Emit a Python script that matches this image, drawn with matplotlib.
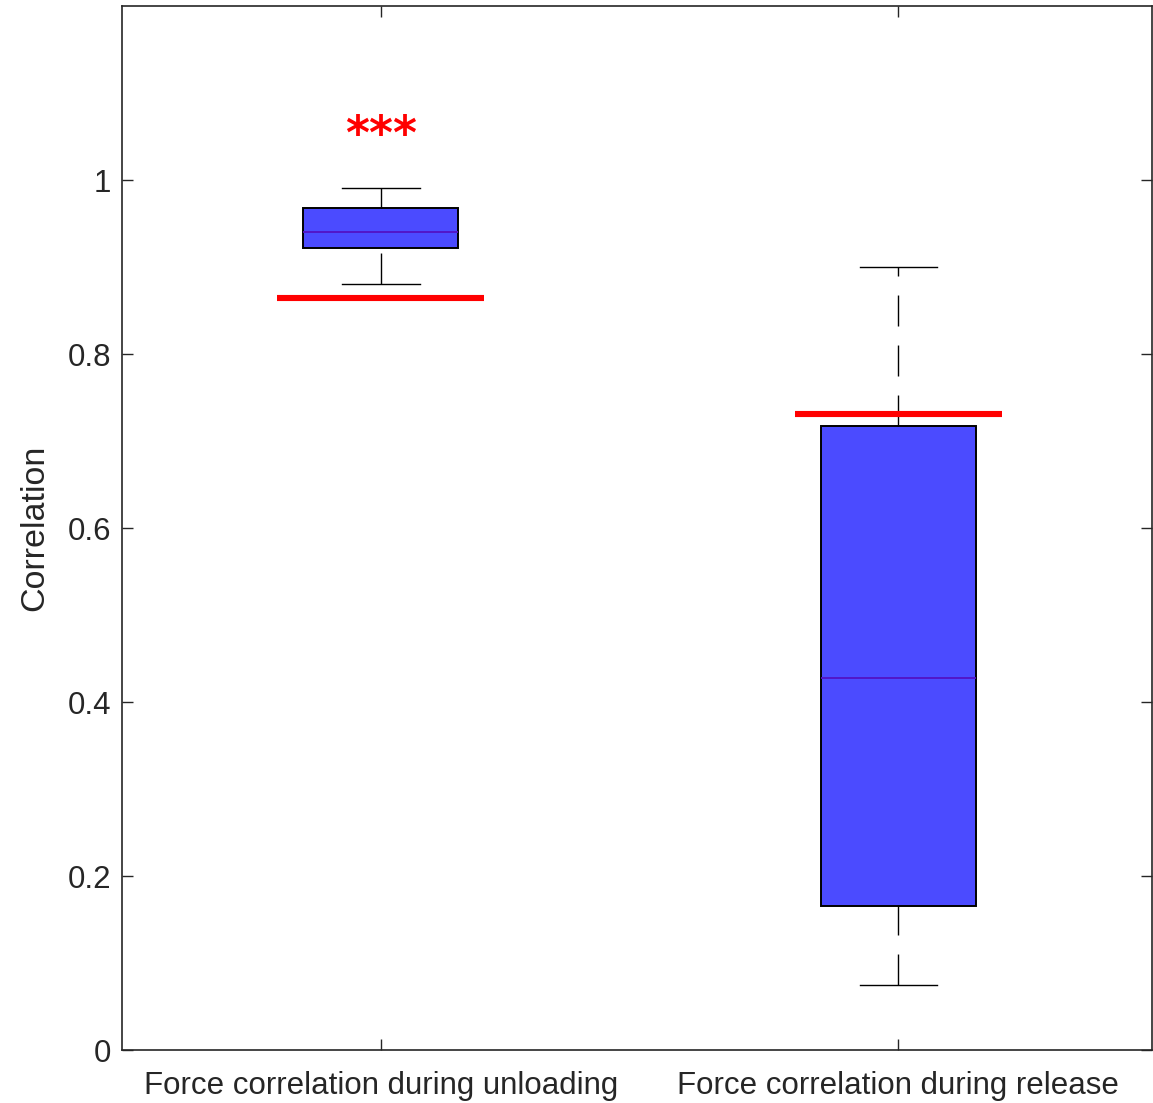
import matplotlib
matplotlib.use("Agg")
import matplotlib.pyplot as plt

plt.rcParams['font.family'] = ['Liberation Sans', 'DejaVu Sans']

categories = ["Force correlation during unloading", "Force correlation during release"]
whislo = [0.880, 0.075]
q1 = [0.922, 0.166]
med = [0.940, 0.428]
q3 = [0.968, 0.717]
whishi = [0.991, 0.900]
reference = [0.864, 0.731]
significance = ["***", ""]
yticks = [0, 0.2, 0.4, 0.6, 0.8, 1]
yticklabels = ["0", "0.2", "0.4", "0.6", "0.8", "1"]

W, H = 1153, 1103
fig = plt.figure(figsize=(W / 100, H / 100), dpi=100)
ax = fig.add_axes([122 / W, 53 / H, 1030 / W, 1044 / H])

gray = '#262626'
stats = []
for i in range(len(categories)):
    stats.append(dict(label=categories[i], whislo=whislo[i], q1=q1[i], med=med[i],
                      q3=q3[i], whishi=whishi[i], fliers=[]))

positions = [1, 2]
res = ax.bxp(stats, positions=positions, widths=0.30, patch_artist=True,
             showfliers=False,
             boxprops=dict(facecolor='#4b4bff', edgecolor='black', linewidth=1.4),
             medianprops=dict(color='#5212c4', linewidth=1.3),
             whiskerprops=dict(color='black', linewidth=1.0, linestyle=(0, (22.3, 13.7))),
             capprops=dict(color='black', linewidth=1.0),
             capwidths=0.15)

# lower whiskers drawn from the cap toward the box
for k, wl in enumerate(res['whiskers']):
    if k % 2 == 0:
        x = wl.get_xdata()
        y = wl.get_ydata()
        wl.set_xdata(x[::-1])
        wl.set_ydata(y[::-1])

for i, p in enumerate(positions):
    ax.plot([p - 0.20, p + 0.20], [reference[i], reference[i]], color='#ff0000',
            linewidth=4.4, solid_capstyle='butt', zorder=5)
    if significance[i]:
        ax.text(p, 1.036, significance[i], color='#ff0000', ha='center', va='baseline',
                fontsize=33, family='DejaVu Sans', fontweight='bold')

ax.set_xlim(0.5, 2.49)
ax.set_ylim(0, 1.2)
ax.set_yticks(yticks)
ax.set_yticklabels(yticklabels)
ax.set_xticks(positions)
ax.set_xticklabels(categories)
ax.set_ylabel("Correlation", fontsize=24.5, color=gray, labelpad=12)
ax.tick_params(axis='both', direction='in', length=8, width=1.0, colors=gray,
               labelsize=22.5, top=True, right=True, pad=8)
ax.tick_params(axis='x', pad=15)
for s in ax.spines.values():
    s.set_color(gray)
    s.set_linewidth(1.2)

fig.savefig("out.png", dpi=100)
